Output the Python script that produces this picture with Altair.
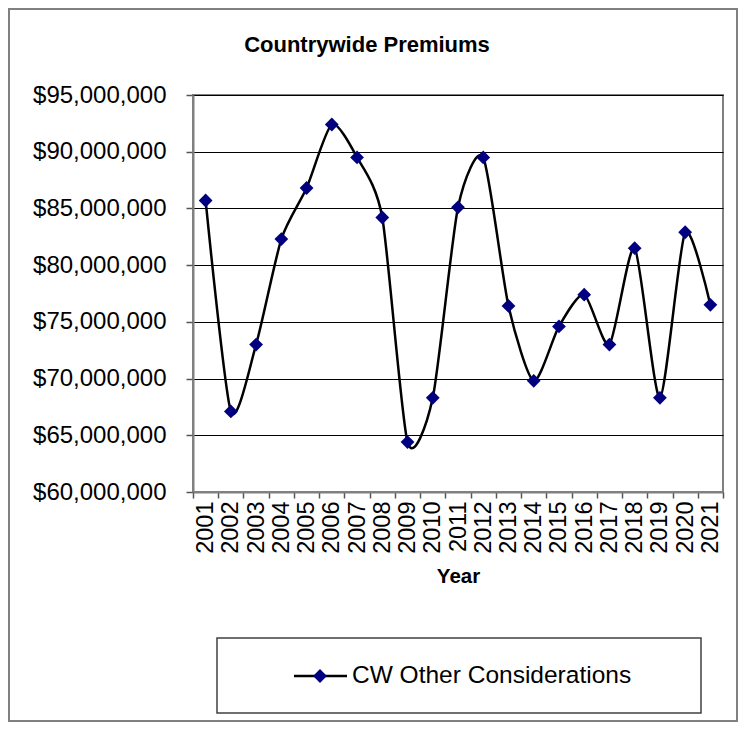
import altair as alt
import pandas as pd

years = ["2001", "2002", "2003", "2004", "2005", "2006", "2007", "2008", "2009", "2010", "2011",
         "2012", "2013", "2014", "2015", "2016", "2017", "2018", "2019", "2020", "2021"]
premiums = [85.7e6, 67.1e6, 73.0e6, 82.3e6, 86.8e6, 92.4e6, 89.5e6, 84.2e6, 64.4e6, 68.3e6, 85.1e6,
            89.5e6, 76.4e6, 69.8e6, 74.6e6, 77.4e6, 73.0e6, 81.5e6, 68.3e6, 82.9e6, 76.5e6]
y_ticks = [60e6, 65e6, 70e6, 75e6, 80e6, 85e6, 90e6, 95e6]
series_name = "CW Other Considerations"
chart_title = "Countrywide Premiums"

FONT = "Liberation Sans"
NAVY = "#000080"

df = pd.DataFrame({"Year": years, "Premium": premiums})
one = pd.DataFrame({"a": [0]})

x_enc = alt.X("Year:O", bandPosition=0.5,
              scale=alt.Scale(type="band", paddingInner=0, paddingOuter=0),
              axis=alt.Axis(title="Year", labelAngle=-90, tickBand="extent", grid=False,
                            labelFont=FONT, labelFontSize=23.5, labelColor="black", labelPadding=3,
                            tickSize=6, tickColor="#555555", tickWidth=1.5,
                            domainColor="#808080", domainWidth=2,
                            titleFont=FONT, titleFontSize=20.5, titleFontWeight="bold",
                            titleColor="black", titlePadding=13))
y_enc = alt.Y("Premium:Q",
              scale=alt.Scale(domain=[60e6, 95e6], nice=False, zero=False),
              axis=alt.Axis(title=None, values=y_ticks, format="$,.0f",
                            labelFont=FONT, labelFontSize=24, labelColor="black", labelPadding=20,
                            tickSize=7, tickColor="#555555", tickWidth=1.5,
                            domainColor="#808080", domainWidth=2,
                            grid=True, gridColor="black", gridWidth=1))

line = alt.Chart(df).mark_line(interpolate="cardinal", tension=0.3, color="black", strokeWidth=2.5).encode(
    x=x_enc, y=y_enc)
points = alt.Chart(df).mark_point(shape="diamond", filled=True, color=NAVY, size=190, opacity=1).encode(
    x=alt.X("Year:O", bandPosition=0.5), y="Premium:Q")

outer = alt.Chart(one).mark_rect(fill=None, stroke="#808080", strokeWidth=2).encode(
    x=alt.value(-184), x2=alt.value(544), y=alt.value(-86), y2=alt.value(626))

legend_box = alt.Chart(one).mark_rect(fill="white", stroke="#404040", strokeWidth=1.5).encode(
    x=alt.value(24), x2=alt.value(508), y=alt.value(543), y2=alt.value(618))
legend_line = alt.Chart(one).mark_rule(color="black", strokeWidth=2.5).encode(
    x=alt.value(101), x2=alt.value(154), y=alt.value(581))
legend_pt = alt.Chart(one).mark_point(shape="diamond", filled=True, color=NAVY, size=190, opacity=1).encode(
    x=alt.value(127), y=alt.value(581))
legend_txt = alt.Chart(one).mark_text(text=series_name, font=FONT, fontSize=24.5, align="left",
                                      baseline="middle", color="black").encode(
    x=alt.value(159), y=alt.value(581))

title_txt = alt.Chart(one).mark_text(text=chart_title, font=FONT, fontSize=22, fontWeight="bold",
                                     align="center", baseline="middle", color="black").encode(
    x=alt.value(174), y=alt.value(-50))

chart = alt.layer(outer, line, points, legend_box, legend_line, legend_pt, legend_txt, title_txt).properties(
    width=530, height=397,
    padding={"left": 185, "top": 87, "right": 15, "bottom": 230},
    autosize=alt.AutoSizeParams(type="none"),
    background="white",
).configure_view(stroke="#808080", strokeWidth=2)

chart.save("out.html", embed_options={"renderer": "svg", "actions": False})
